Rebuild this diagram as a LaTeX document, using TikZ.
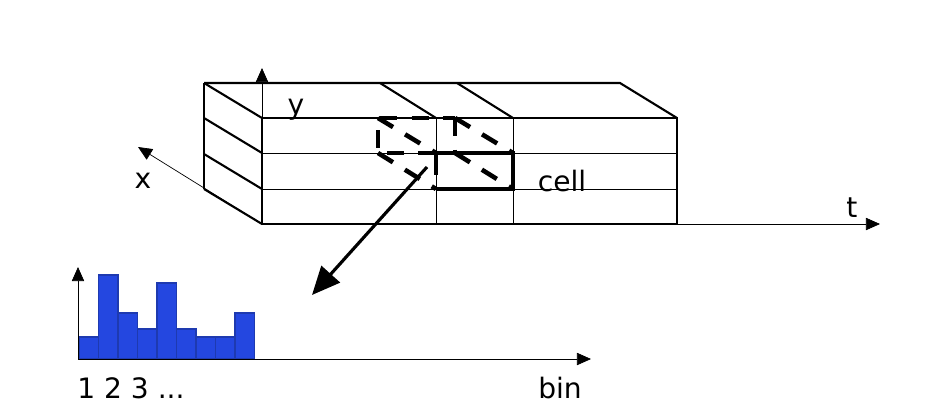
\documentclass[tikz,border=0pt]{standalone}
\usepackage{fontspec}
\setmainfont{DejaVu Sans}
\usetikzlibrary{arrows.meta}
\definecolor{barblue}{HTML}{2447E0}
\definecolor{baredge}{HTML}{1E3AB0}
\tikzset{
  axis/.style={thin, -{Triangle[length=8pt,width=7pt]}},
  edge/.style={line width=1.2pt},
  grid/.style={thin},
  cellfront/.style={line width=2.6pt},
  cellback/.style={line width=2.6pt, dash pattern=on 10pt off 8pt},
  bar/.style={fill=barblue, draw=baredge, line width=0.8pt},
  lbl/.style={font=\fontsize{16}{18}\selectfont, inner sep=0pt}
}
\begin{document}
\begin{tikzpicture}[x=0.02cm, y=-0.02cm]
\useasboundingbox (0,0) rectangle (950,419);

% axes of the volume
\coordinate (O) at (262,224);
\coordinate (ytip) at (262,68);
\coordinate (xtip) at (138,147);
\coordinate (ttip) at (880,224);
\draw[axis] (262,118) -- (ytip);
\draw[axis] (O) -- (xtip);
\draw[axis] (677,224) -- (ttip);
\node[lbl] (ylbl) at (296,110) {y};
\node[lbl] (xlbl) at (143,181) {x};
\node[lbl] (tlbl) at (852,208) {t};

% grid lines on the front face
\foreach \y in {153,189}
  \draw[grid] (262,\y) -- (677,\y);
\foreach \x in {436,513}
  \draw[grid] (\x,118) -- (\x,224);
% left face
\foreach \y in {153,189}
  \draw[edge] (204,\y-35) -- (262,\y);
\draw[edge] (204,189) -- (262,224);
% top face
\draw[edge] (380,83) -- (436,118);
\draw[edge] (457,83) -- (513,118);
% outline
\draw[edge] (262,118) rectangle (677,224);
\draw[edge] (204,83) -- (620,83) -- (677,118);
\draw[edge] (204,83) -- (262,118);
\draw[edge] (204,83) -- (204,189);

% the cell
\draw[cellback] (436,153) -- (378,153) -- (378,118) -- (455,118);
\draw[cellback] (378,118) -- (436,153);
\draw[cellback] (378,153) -- (436,189);
\draw[cellback] (455,118) -- (513,153);
\draw[cellback] (455,153) -- (513,189);
\draw[cellback] (455,118) -- (455,153);
\draw[cellfront] (436,153) -- (513,153) -- (513,189) -- (436,189);
\draw[cellfront] (436,153) -- (436,175);
\node[lbl] (cell) at (562,181) {cell};

% histogram
\coordinate (hO) at (78,359);
\coordinate (hy) at (78,267);
\coordinate (hx) at (591,359);
\foreach \h [count=\i from 0] in {337,275,313,329,283,329,337,337,313}
  \draw[bar] (79+\i*19.5,359) rectangle (98.5+\i*19.5,\h);
\draw[axis] (hO) -- (hy);
\draw[axis] (hO) -- (hx);
\node[lbl] (bins) at (131,388) {1 2 3 ...};
\node[lbl] (binlbl) at (560,388) {bin};

% pointer from cell to histogram
\coordinate (from) at (427,167);
\coordinate (to) at (312,295);
\draw[line width=1.8pt, -{Triangle[length=16pt,width=14pt]}] (from) -- (to);
\end{tikzpicture}
\end{document}
